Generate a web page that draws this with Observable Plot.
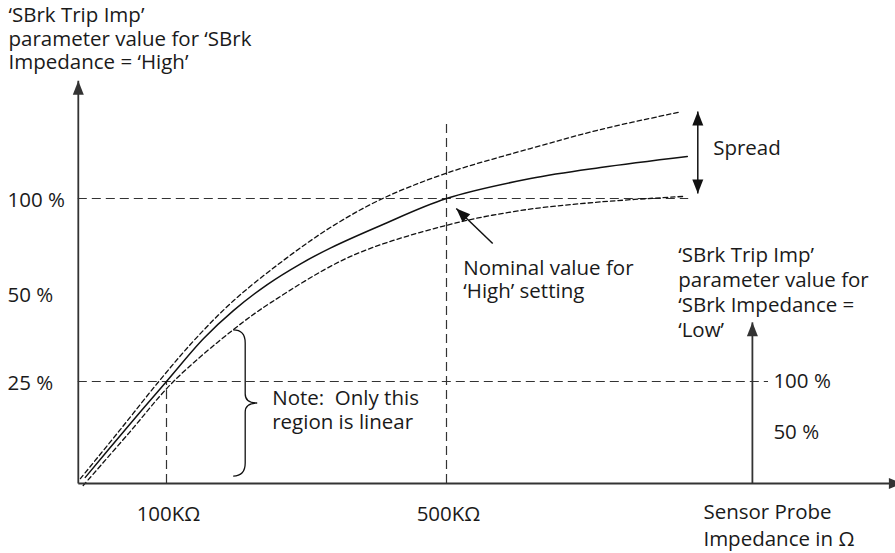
<!DOCTYPE html>
<html><head><meta charset="utf-8">
<script src="https://cdn.jsdelivr.net/npm/d3@7"></script>
<script src="https://cdn.jsdelivr.net/npm/@observablehq/plot@0.6"></script>
<style>
html,body{margin:0;padding:0;background:#fff;}
#chart svg{display:block;}
</style></head><body><div id="chart"></div>
<script>
// Sensor probe impedance (kΩ) vs 'SBrk Trip Imp' value (% of 'High' setting)
const nominalK   = [-16, 41, 100, 153, 196, 244, 291, 334, 406, 500, 620, 720, 844];
const nominalPct = [1.5, 13.2, 25, 37.2, 45.2, 54.7, 65.5, 73.9, 85.8, 100, 110.5, 116.3, 122.1];
const upperK     = [-23, 33, 89, 139, 196, 267, 334, 406, 499, 620, 720, 831];
const upperPct   = [1.2, 13.0, 25, 36.6, 48.0, 67.4, 84.7, 99.5, 113.2, 126.3, 136.3, 145.3];
const lowerK     = [-19, 46, 110, 194, 249, 363, 499, 606, 720, 839];
const lowerPct   = [-0.5, 12.3, 25, 39.5, 47.4, 69.5, 85.8, 93.7, 98.2, 101.1];

const highTicks = [100, 50, 25];            // % of 'High' setting
const highTickLabels = ["100 %", "50 %", "25 %"];
const lowTicks = [100, 50];                 // % of 'Low' setting
const lowTickLabels = ["100 %", "50 %"];
const lowToHigh = 0.25;                     // 100 % Low  <->  25 % High
const impedanceTicks = [100, 500];          // kΩ
const impedanceLabels = ["100KΩ", "500KΩ"];

const FONT = 20.5;
const INK = "#1a1a1a";
const AX = "#333";

const toPts = (xs, ys) => xs.map((x, i) => ({x, y: ys[i]}));
const nominal = toPts(nominalK, nominalPct);
const upper = toPts(upperK, upperPct);
const lower = toPts(lowerK, lowerPct);

const label = (x, y, text, o = {}) =>
  Plot.text([{x, y, text}], {x: "x", y: "y", text: "text", textAnchor: "start",
    fontSize: FONT, fill: INK, lineAnchor: "middle", ...o});

// brace "}" drawn through the scales
const brace = {x: 196, top: 39.5, bottom: 1.7, depth: 24};
const braceMark = (index, scales) => {
  const x0 = scales.x(brace.x), y0 = scales.y(brace.top), y1 = scales.y(brace.bottom);
  const x1 = x0 + brace.depth / 2, xt = x0 + brace.depth, ym = (y0 + y1) / 2;
  const r = 13, r2 = 9;
  const p = d3.path();
  p.moveTo(x0, y0);
  p.quadraticCurveTo(x1, y0, x1, y0 + r);
  p.lineTo(x1, ym - r2);
  p.quadraticCurveTo(x1, ym, xt, ym);
  p.quadraticCurveTo(x1, ym, x1, ym + r2);
  p.lineTo(x1, y1 - r);
  p.quadraticCurveTo(x1, y1, x0, y1);
  const g = d3.create("svg:path").attr("d", p.toString()).attr("fill", "none")
    .attr("stroke", "#111").attr("stroke-width", 1.3);
  return g.node();
};

const yAxisX = -26, yAxisTop = 162, xAxisEnd = 1152, lowAxisX = 937;

const svg = Plot.plot({
  width: 895, height: 553,
  marginTop: 0, marginRight: 0, marginBottom: 0, marginLeft: 0,
  x: {domain: [100, 500], range: [166, 446], axis: null},
  y: {type: "linear", domain: [0, 25, 50, 100], range: [483, 381, 293, 198], axis: null},
  style: {fontFamily: "'Open Sans', 'Noto Sans', sans-serif", background: "#fff", color: INK},
  marks: [
    // guide lines
    Plot.ruleY([100], {x1: yAxisX, x2: 846, stroke: AX, strokeWidth: 1.2, strokeDasharray: "9,5"}),
    Plot.ruleY([100 * lowToHigh], {x1: yAxisX, x2: 960, stroke: AX, strokeWidth: 1.2, strokeDasharray: "9,5"}),
    Plot.ruleX([impedanceTicks[0]], {y1: 0, y2: 25, stroke: AX, strokeWidth: 1.2, strokeDasharray: "9,5"}),
    Plot.ruleX([impedanceTicks[1]], {y1: 0, y2: 140, stroke: AX, strokeWidth: 1.2, strokeDasharray: "9,5"}),
    // spread curves
    Plot.line(upper, {x: "x", y: "y", curve: "catmull-rom", stroke: "#111", strokeWidth: 1.3, strokeDasharray: "4.5,3"}),
    Plot.line(lower, {x: "x", y: "y", curve: "catmull-rom", stroke: "#111", strokeWidth: 1.3, strokeDasharray: "4.5,3"}),
    Plot.line(nominal, {x: "x", y: "y", curve: "catmull-rom", stroke: "#111", strokeWidth: 1.5}),
    // axes
    Plot.link([0], {x1: yAxisX, y1: 0, x2: yAxisX, y2: yAxisTop, stroke: AX, strokeWidth: 1.8, markerEnd: "arrow"}),
    Plot.link([0], {x1: yAxisX, y1: 0, x2: xAxisEnd, y2: 0, stroke: AX, strokeWidth: 1.8, markerEnd: "arrow"}),
    Plot.link([0], {x1: lowAxisX, y1: 0, x2: lowAxisX, y2: 41.8, stroke: AX, strokeWidth: 1.8, markerEnd: "arrow"}),
    // spread arrow and nominal pointer
    Plot.link([0], {x1: 859, y1: 124, x2: 859, y2: 145.8, stroke: "#111", strokeWidth: 1.5, markerEnd: "arrow"}),
    Plot.link([0], {x1: 859, y1: 124, x2: 859, y2: 102.6, stroke: "#111", strokeWidth: 1.5, markerEnd: "arrow"}),
    Plot.link([0], {x1: 566, y1: 76.3, x2: 514, y2: 94.7, stroke: "#111", strokeWidth: 1.5, markerEnd: "arrow"}),
    braceMark,
    // tick labels
    Plot.text(highTicks, {y: d => d, text: (d, i) => highTickLabels[i], frameAnchor: "left", dx: 7, dy: 2,
      textAnchor: "start", fontSize: FONT, fill: INK}),
    Plot.text(lowTicks, {x: lowAxisX, y: d => d * lowToHigh, text: (d, i) => lowTickLabels[i], dx: 21,
      textAnchor: "start", fontSize: FONT, fill: INK}),
    Plot.text(impedanceTicks, {x: d => d, y: 0, text: (d, i) => impedanceLabels[i], dx: 2, dy: 31,
      fontSize: FONT, fill: INK}),
    // annotations
    Plot.text([0], {frameAnchor: "top-left", text: () => "‘SBrk Trip Imp’\nparameter value for ‘SBrk\nImpedance = ‘High’",
      textAnchor: "start", lineAnchor: "top", dx: 8, dy: 5, lineHeight: 1.15, fontSize: FONT, fill: INK}),
    label(881, 126.3, "Spread"),
    label(524, 57.6, "Nominal value for\n‘High’ setting", {lineHeight: 1.12}),
    label(831, 51, "‘SBrk Trip Imp’\nparameter value for\n‘SBrk Impedance =\n‘Low’", {lineHeight: 1.23}),
    label(251, 18.1, "Note:\u00a0 Only this\nregion is linear", {lineHeight: 1.17}),
    label(867, -9.9, "Sensor Probe\nImpedance in Ω", {lineHeight: 1.32})
  ]
});

// filled triangular arrowheads
svg.querySelectorAll("marker").forEach(m => {
  const c = m.getAttribute("stroke") || "#111";
  m.setAttribute("viewBox", "-15 -6 16 12");
  m.setAttribute("markerWidth", "16");
  m.setAttribute("markerHeight", "12");
  m.setAttribute("markerUnits", "userSpaceOnUse");
  m.setAttribute("refX", "0");
  m.setAttribute("refY", "0");
  m.setAttribute("orient", "auto");
  m.setAttribute("fill", c === "currentColor" ? "#111" : c);
  m.setAttribute("stroke", "none");
  while (m.firstChild) m.removeChild(m.firstChild);
  const p = document.createElementNS("http://www.w3.org/2000/svg", "path");
  p.setAttribute("d", "M-14,-5.5L0,0L-14,5.5Z");
  m.appendChild(p);
});

document.getElementById("chart").appendChild(svg);
</script>
</body></html>
